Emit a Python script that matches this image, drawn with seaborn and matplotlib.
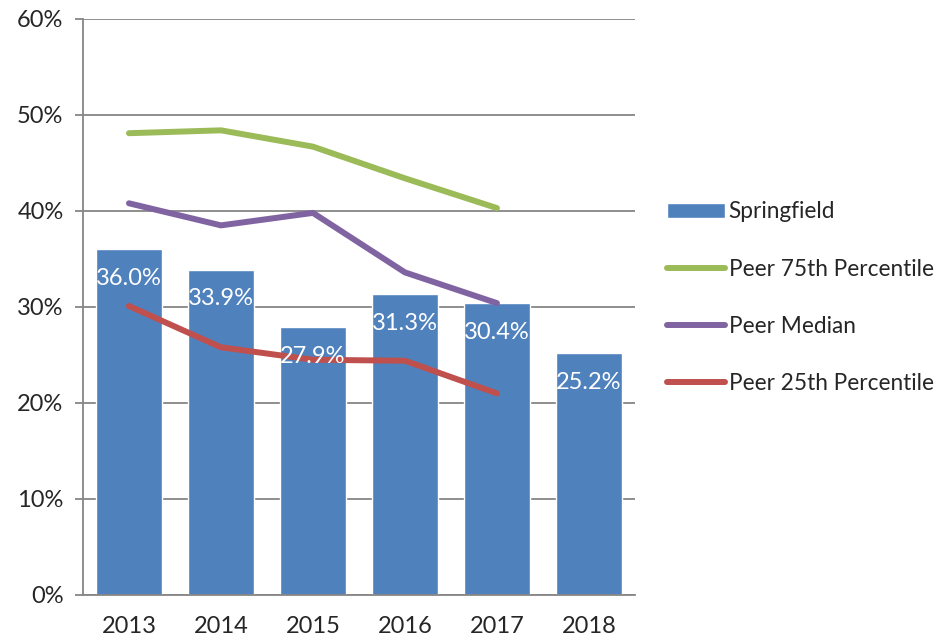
import matplotlib
matplotlib.use('Agg')
import matplotlib.pyplot as plt
import numpy as np
import pandas as pd
import seaborn as sns

# Data (percent)
years = ['2013', '2014', '2015', '2016', '2017', '2018']
springfield = [36.0, 33.9, 27.9, 31.3, 30.4, 25.2]
peer_75th = [48.1, 48.4, 46.7, 43.4, 40.3]
peer_median = [40.8, 38.5, 39.8, 33.6, 30.4]
peer_25th = [30.1, 25.8, 24.5, 24.4, 21.0]

bar_color = '#4F81BD'
line_colors = {'Peer 75th Percentile': '#9BBB59',
               'Peer Median': '#8064A2',
               'Peer 25th Percentile': '#C0504D'}
grid_color = '#868686'

sns.set_style('white')
plt.rcParams['font.family'] = ['Lato', 'DejaVu Sans']

fig = plt.figure(figsize=(9.46, 6.43), dpi=100)
ax = fig.add_axes([0.0877, 0.0747, 0.5835, 0.8958])

df_bar = pd.DataFrame({'year': years, 'value': springfield})
sns.barplot(data=df_bar, x='year', y='value', color=bar_color, width=0.71,
            saturation=1, ax=ax, label='Springfield', zorder=2)

pos = np.arange(len(peer_75th))
for name, vals in [('Peer 75th Percentile', peer_75th),
                   ('Peer Median', peer_median),
                   ('Peer 25th Percentile', peer_25th)]:
    sns.lineplot(x=pos, y=vals, color=line_colors[name], linewidth=4.3,
                 ax=ax, label=name, zorder=3,
                 solid_capstyle='round', solid_joinstyle='round')

# data labels inside the top of each bar
for x, v in enumerate(springfield):
    ax.annotate(f'{v:.1f}%', (x, v), xytext=(0, -21), textcoords='offset points',
                ha='center', va='center', color='white', fontsize=17, zorder=4)

ax.set_ylim(0, 60)
ax.set_xlim(-0.5, len(years) - 0.5)
ax.set_yticks(np.arange(0, 61, 10))
ax.set_yticklabels([f'{t}%' for t in range(0, 61, 10)])
ax.yaxis.grid(True, color=grid_color, linewidth=1.3, zorder=0)
ax.set_axisbelow(True)
ax.set_xlabel('')
ax.set_ylabel('')

ax.set_xticks(np.arange(-0.5, len(years), 1), minor=True)
ax.tick_params(axis='x', which='major', length=0, pad=15, labelsize=17)
ax.tick_params(axis='x', which='minor', length=6, width=1.3, color=grid_color,
               direction='out')
ax.tick_params(axis='y', length=6, width=1.3, color=grid_color, direction='out',
               pad=8, labelsize=17, left=True)

for s in ['top', 'right']:
    ax.spines[s].set_visible(False)
for s in ['left', 'bottom']:
    ax.spines[s].set_color(grid_color)
    ax.spines[s].set_linewidth(1.3)

handles, labels = ax.get_legend_handles_labels()
order = [labels.index('Springfield')] + [i for i, l in enumerate(labels) if l != 'Springfield']
ax.legend([handles[i] for i in order], [labels[i] for i in order],
          loc='center left', bbox_to_anchor=(0.695, 0.537),
          bbox_transform=fig.transFigure, frameon=False, fontsize=16.3,
          handlelength=2.6, handletextpad=0.15, labelspacing=1.6,
          borderaxespad=0)

fig.savefig('out.png', dpi=100)
